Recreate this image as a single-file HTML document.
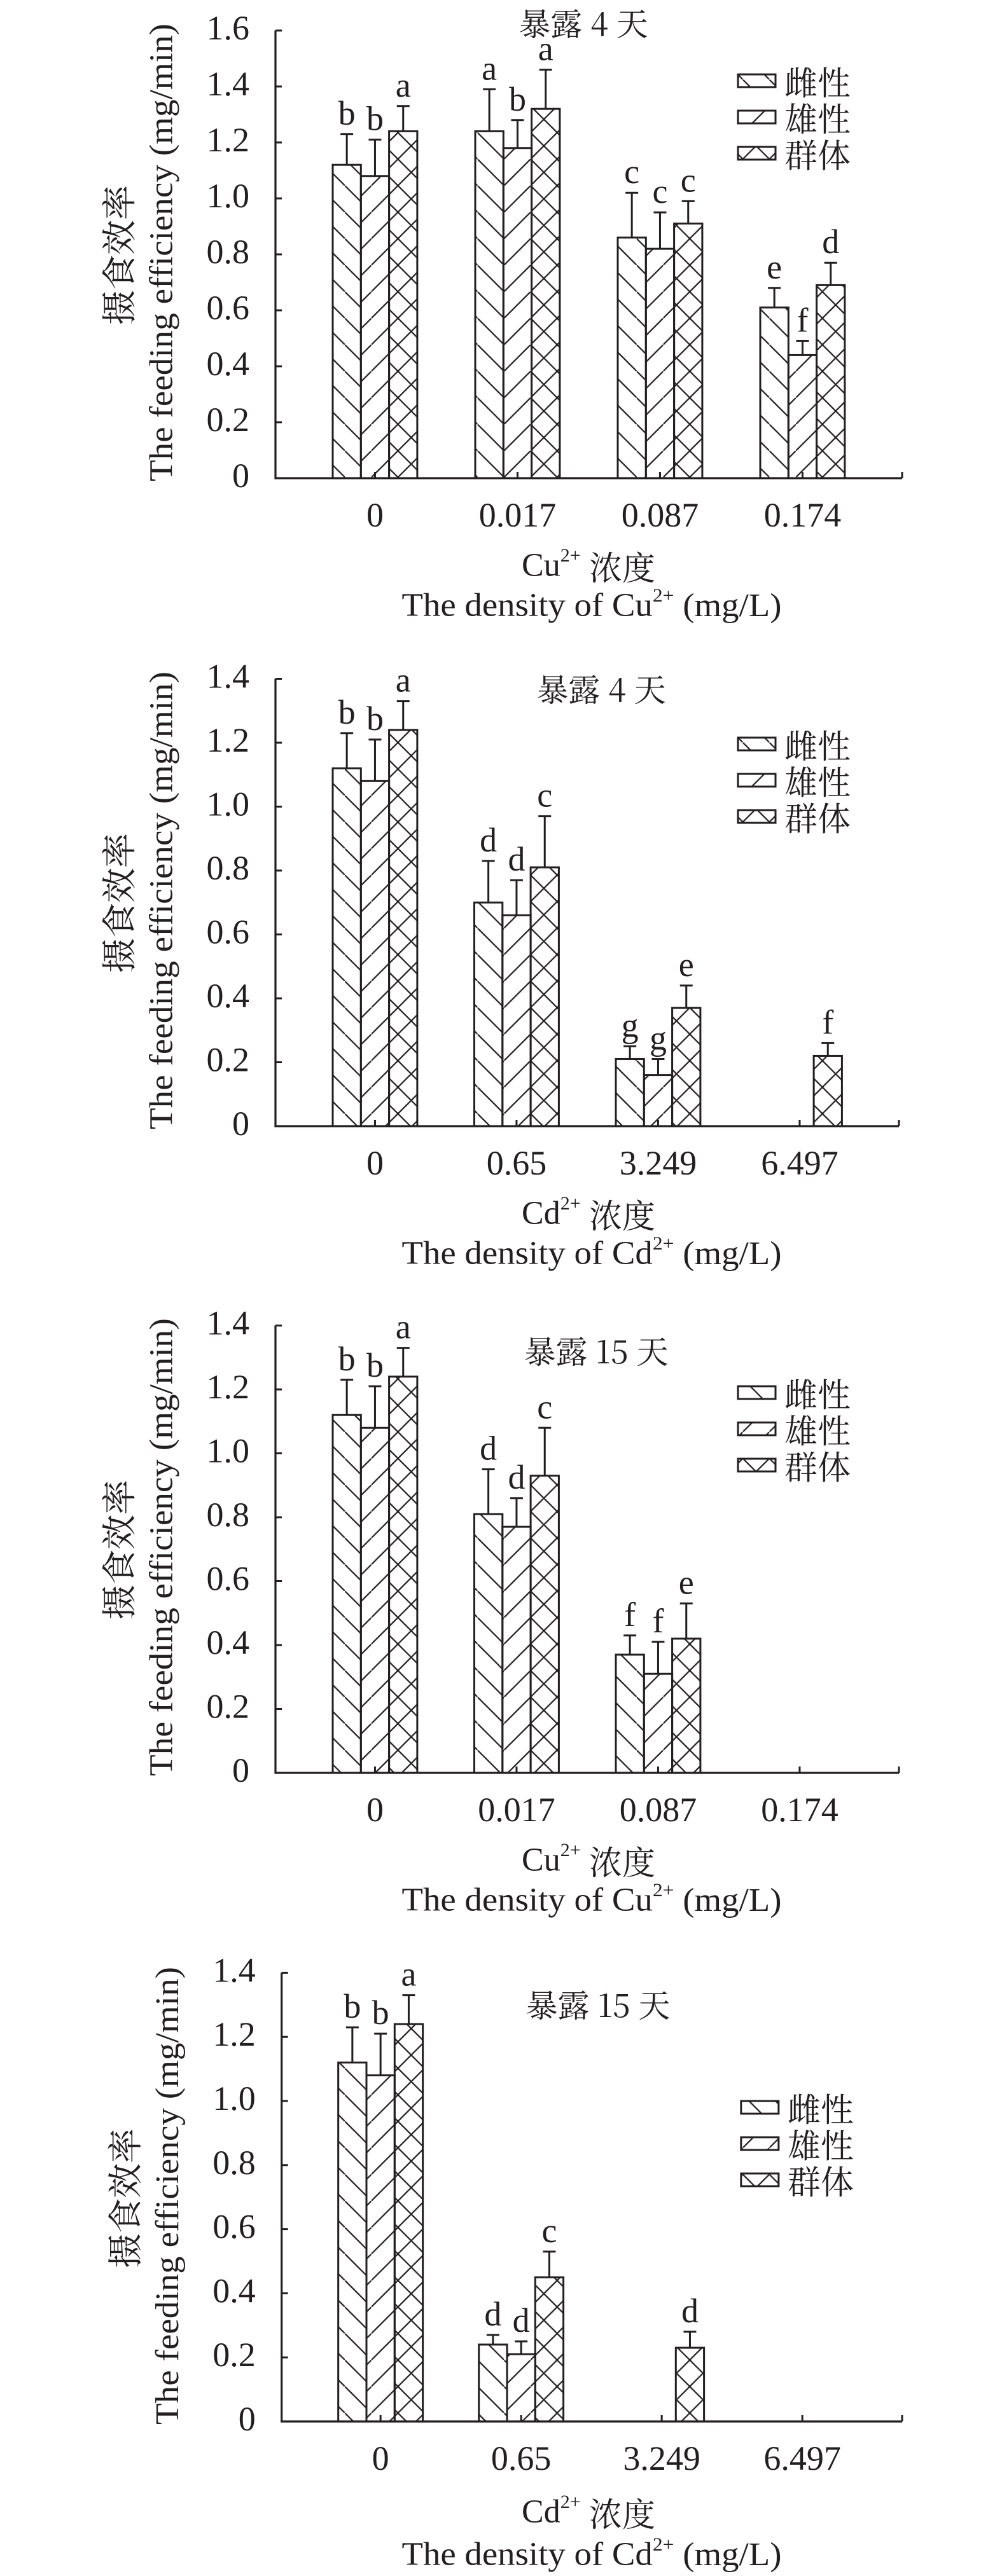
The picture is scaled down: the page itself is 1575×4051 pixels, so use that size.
<!DOCTYPE html>
<html><head><meta charset="utf-8">
<style>
html,body{margin:0;padding:0;background:#fff;}
svg{display:block;}
text{font-family:"Liberation Serif","Noto Serif CJK SC",serif;fill:#231f20;}
.cjk{font-family:"Noto Serif CJK SC","Liberation Serif",serif;}
.ylc{font-family:"Noto Serif CJK SC","Liberation Serif",serif;font-size:55px;}
</style></head>
<body>
<svg id="s" xmlns="http://www.w3.org/2000/svg" width="1575" height="4051" viewBox="0 0 1575 4051">
<defs>
<pattern id="pf" patternUnits="userSpaceOnUse" width="41.7" height="41.7">
<line x1="-2" y1="-2" x2="43.7" y2="43.7" stroke="#231f20" stroke-width="2.2"/>
</pattern>
<pattern id="pm" patternUnits="userSpaceOnUse" width="41.7" height="41.7">
<line x1="-2" y1="43.7" x2="43.7" y2="-2" stroke="#231f20" stroke-width="2.2"/>
</pattern>
<pattern id="pg" patternUnits="userSpaceOnUse" width="41.7" height="41.7">
<line x1="-2" y1="-2" x2="43.7" y2="43.7" stroke="#231f20" stroke-width="2.2"/>
<line x1="-2" y1="43.7" x2="43.7" y2="-2" stroke="#231f20" stroke-width="2.2"/>
</pattern>
</defs>
</svg>
<script>
var NS="http://www.w3.org/2000/svg";
var svg=document.getElementById('s');
function el(t,a,txt,par){var e=document.createElementNS(NS,t);for(var k in a)e.setAttribute(k,a[k]);if(txt!==undefined)e.textContent=txt;(par||svg).appendChild(e);return e;}
function line(x1,y1,x2,y2,w){el('line',{x1:x1,y1:y1,x2:x2,y2:y2,stroke:'#231f20','stroke-width':w||3});}
var base=[[1.12,1.23,'b'],[1.08,1.21,'b'],[1.24,1.33,'a']];
var charts=[
{zero:752,unit:440,max:1.6,ax:433,end:1418,g0:523,gs:224,title:'暴露 4 天',tx:917,ty:35,leg:117,ion:'Cu',cats:['0','0.017','0.087','0.174'],
 data:[base,[[1.24,1.39,'a'],[1.18,1.28,'b'],[1.32,1.46,'a']],[[0.86,1.02,'c'],[0.82,0.95,'c'],[0.91,0.99,'c']],[[0.61,0.68,'e'],[0.44,0.49,'f'],[0.69,0.77,'d']]]},
{zero:1771,unit:502.5,max:1.4,ax:433,end:1413,g0:523,gs:222.5,title:'暴露 4 天',tx:945,ty:1082,leg:1160,ion:'Cd',cats:['0','0.65','3.249','6.497'],
 data:[base,[[0.70,0.83,'d'],[0.66,0.77,'d'],[0.81,0.97,'c']],[[0.21,0.25,'g'],[0.16,0.21,'g'],[0.37,0.44,'e']],[null,null,[0.22,0.26,'f']]]},
{zero:2788,unit:502.5,max:1.4,ax:433,end:1413,g0:523,gs:222.5,title:'暴露 15 天',tx:937,ty:2123,leg:2180,ion:'Cu',cats:['0','0.017','0.087','0.174'],
 data:[base,[[0.81,0.95,'d'],[0.77,0.86,'d'],[0.93,1.08,'c']],[[0.37,0.43,'f'],[0.31,0.41,'f'],[0.42,0.53,'e']],[null,null,null]]},
{zero:3808,unit:504,max:1.4,ax:442.7,end:1418,g0:531.7,gs:221,title:'暴露 15 天',tx:940,ty:3151,leg:3304,ion:'Cd',cats:['0','0.65','3.249','6.497'],
 data:[base,[[0.24,0.27,'d'],[0.21,0.25,'d'],[0.45,0.53,'c']],[null,null,[0.23,0.28,'d']],[null,null,null]]}
];
var pats=['url(#pf)','url(#pm)','url(#pg)'];
var bw=44.3;
charts.forEach(function(c){
  var dx=c.ax-433;
  var top=c.zero-c.max*c.unit;
  c.data.forEach(function(g,gi){
    g.forEach(function(b,bi){
      if(!b)return;
      var x=c.g0+gi*c.gs+bi*bw, y=c.zero-b[0]*c.unit, ey=c.zero-b[1]*c.unit, cx=x+bw/2;
      el('rect',{x:x,y:y,width:bw,height:c.zero-y,fill:pats[bi],stroke:'#231f20','stroke-width':3});
      line(cx,y,cx,ey,3);line(cx-10,ey,cx+10,ey,3);
      el('text',{x:cx,y:ey-15,'text-anchor':'middle','font-size':54},b[2]);
    });
  });
  line(c.ax,top,c.ax,c.zero+1.5,3.2);
  line(c.ax-1.5,c.zero,c.end,c.zero,3.2);
  line(c.end,c.zero,c.end,c.zero-10,3);
  for(var v=0;v<=c.max+1e-6;v+=0.2){
    var y=c.zero-v*c.unit;
    if(v>0)line(c.ax,y,c.ax+10,y,3);
    el('text',{x:392+dx,y:y-4,'text-anchor':'end','dominant-baseline':'central','font-size':54},v<1e-6?'0':v.toFixed(1));
  }
  c.cats.forEach(function(t,i){
    var cx=c.g0+i*c.gs+bw*1.5;
    line(cx,c.zero,cx,c.zero-10,3);
    el('text',{x:cx,y:c.zero+58,'text-anchor':'middle','dominant-baseline':'central','font-size':54},t);
  });
  el('text',{x:c.tx,y:c.ty,'text-anchor':'middle','dominant-baseline':'central','font-size':50,'class':'cjk'},c.title);
  var names=['雌性','雄性','群体'];
  for(var i=0;i<3;i++){
    var ly=c.leg+i*57;
    el('rect',{x:1160+dx*0.5,y:ly,width:59,height:20,fill:pats[i],stroke:'#231f20','stroke-width':3});
    el('text',{x:1233+dx*0.5,y:ly+10,'dominant-baseline':'central','font-size':52,'class':'cjk'},names[i]);
  }
  var yc=c.zero-355;
  el('text',{x:0,y:0,transform:'translate('+(254+dx)+','+yc+') rotate(-90)','text-anchor':'middle','dominant-baseline':'central','font-size':52,textLength:720,lengthAdjust:'spacingAndGlyphs'},'The feeding efficiency (mg/min)');
  var g=el('g',{transform:'translate('+(188+dx)+','+(c.zero-351)+') rotate(-90)'});
  el('text',{x:0,y:19,'text-anchor':'middle','class':'ylc','font-size':55,style:'font-size:55px'},'摄食效率',g);
  var off=(c===charts[3])?[142,209]:[137,200];
  var t1=el('text',{x:925,y:c.zero+off[0],'text-anchor':'middle','dominant-baseline':'central','font-size':52});
  t1.innerHTML=c.ion+'<tspan font-size="30" dy="-16">2+</tspan><tspan dy="16" class="cjk"> 浓度</tspan>';
  var t2=el('text',{x:930,y:c.zero+off[1],'text-anchor':'middle','dominant-baseline':'central','font-size':52,textLength:597,lengthAdjust:'spacingAndGlyphs'});
  t2.innerHTML='The density of '+c.ion+'<tspan font-size="30" dy="-16">2+</tspan><tspan dy="16"> (mg/L)</tspan>';
});
</script>
</body></html>
